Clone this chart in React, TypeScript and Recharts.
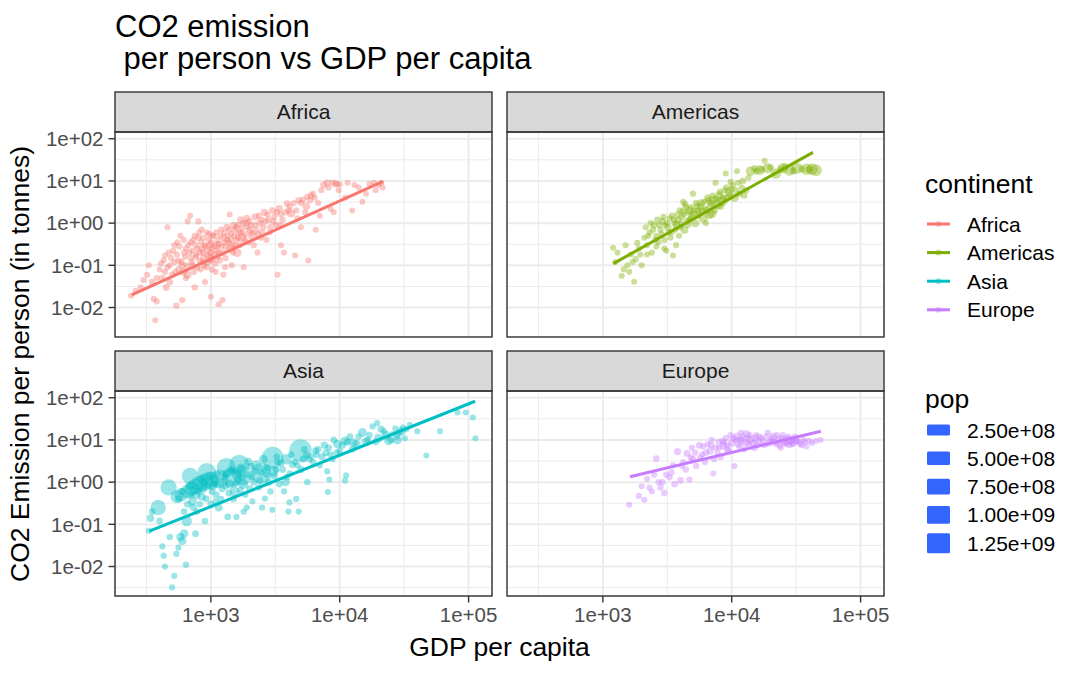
import React from 'react';
import { ScatterChart, Scatter, XAxis, YAxis, ZAxis, CartesianGrid } from 'recharts';

// ---------- data ----------
const CONTINENTS = ['Africa', 'Americas', 'Asia', 'Europe'];
const COLORS = ['#F8766D', '#7CAE00', '#00BFC4', '#C77CFF'];

const X_DOMAIN = [180.3, 152000];
const Y_DOMAIN = [0.002, 144.5];
const X_TICKS = [1e3, 1e4, 1e5];
const X_TICK_LABELS = ['1e+03', '1e+04', '1e+05'];
const Y_TICKS = [0.01, 0.1, 1, 10, 100];
const Y_TICK_LABELS = ['1e-02', '1e-01', '1e+00', '1e+01', '1e+02'];
const X_MINOR = [316.2, 3162, 31623];
const Y_MINOR = [0.003162, 0.03162, 0.3162, 3.162, 31.62];

const POP_BREAKS = [2.5e8, 5e8, 7.5e8, 1e9, 1.25e9];
const POP_LABELS = ['2.50e+08', '5.00e+08', '7.50e+08', '1.00e+09', '1.25e+09'];

// [gdpPercap, co2 per person (t), pop (millions)]
const AFRICA_A: number[][] = [
  [240,0.019,3],[260,0.025,4],[285,0.03,5],[300,0.045,6],[320,0.06,3],[330,0.1,4],[350,0.04,20],[360,0.016,8],[370,0.005,2],[380,0.014,10],
  [400,0.08,3],[420,0.05,25],[430,0.13,4],[440,0.07,6],[450,0.03,30],[460,0.8,2],[470,0.2,5],[480,0.1,8],[480,0.04,35],[500,0.06,7],
  [520,0.3,3],[520,0.12,9],[540,0.011,12],[550,0.35,4],[560,0.13,6],[560,0.08,10],[580,0.5,3],[600,0.015,14],[600,0.1,45],[610,0.07,60],
  [620,0.2,8],[640,0.05,10],[640,0.25,5],[660,1.1,2],[660,0.06,70],[690,1.5,3],[700,0.35,9],[700,0.15,12],[720,0.1,15],[720,0.22,4],
  [750,0.03,18],[750,0.5,6],[760,0.3,10],[770,0.18,7],[780,0.09,20],[800,1.1,3],[800,0.45,11],[820,0.13,14],[830,0.08,5],[840,0.35,6],
  [850,0.25,22],[850,0.7,4],[870,0.2,9],[880,0.15,30],[890,0.1,8],[900,0.04,5],[910,0.28,12],[930,0.6,7],[940,0.17,15],[950,0.12,40],
  [960,0.4,6],[980,0.3,9],[990,0.13,11],[1000,0.018,4],[1000,0.2,55],[1010,0.25,7],[1020,0.08,13],[1030,0.5,5],[1050,0.5,8],[1060,0.18,16],
  [1080,0.11,10],[1090,0.07,6],[1100,0.3,70],[1120,0.22,9],[1130,0.4,12],[1150,0.012,3],[1150,0.2,5],[1170,0.13,18],[1200,0.7,6],[1210,0.28,8],
  [1230,0.015,4],[1250,0.06,7],[1260,0.45,20],[1280,0.35,10],[1290,0.09,5],[1300,0.15,14],[1330,0.8,25],[1350,0.5,9],[1380,0.35,6],[1400,1.6,3],
  [1420,0.25,90],[1440,0.55,7],[1450,0.1,11],[1480,0.2,8],[1500,0.9,30],[1530,0.7,5],[1550,0.3,12],[1580,0.4,10],[1600,0.2,106],[1620,0.9,6],
  [1650,0.6,15],[1680,0.3,8],[1700,1.2,35],[1740,0.75,9],[1750,0.45,120],[1800,0.09,5],[1850,0.55,14],[1880,1.0,7],[1900,1.3,40],[1950,0.35,10],
  [2000,0.7,18],[2050,0.9,6],[2100,0.5,135],[2150,0.3,8],[2200,1.4,45],[2250,0.7,12],[2300,0.2,4],[2350,1.5,9],[2400,1.0,20],[2450,0.45,7],
  [2500,0.6,10],[2600,1.8,50],[2650,1.1,6],[2700,0.4,5],[2800,1.2,15],[2900,0.8,8],[3000,2.0,25],[3100,1.4,10],[3200,0.9,5],[3300,0.06,2],
  [3400,2.2,60],[3500,0.3,1],[3500,1.6,7],[3600,1.2,12],[3700,0.2,1],[3900,2.9,30],[4000,2.0,9],[4200,1.7,70],[4400,3.0,6],[4500,0.17,1],
  [4700,1.3,5],[4800,3.5,20],[5000,0.8,1],[5200,3.6,8],[5500,2.5,75],[5600,4.2,10],[5700,0.13,1],[6000,4.5,30],[6200,5.0,3],[6500,0.7,1],
  [6800,3.0,1],[7000,1.5,2],[7500,8.0,35],[8000,9.0,40],[8500,2.2,1],[9000,1.8,1],[9300,8.5,44],[9500,8.5,2],[10000,8.2,3],[11000,4.0,1],
  [12500,2.0,1],[13000,8.0,5],[15000,3.2,1],[17000,8.5,1],[19000,6.0,1],[21500,7.0,1],[21000,9.0,1],
];
const AFRICA_B: number[][] = [
  [380,0.05,5],[410,0.11,6],[440,0.17,4],[460,0.09,9],[490,0.15,5],[510,0.22,7],[530,0.07,11],[545,0.18,8],[570,0.28,6],[590,0.12,14],
  [615,0.4,5],[630,0.16,9],[650,0.1,12],[670,0.3,7],[680,0.2,16],[710,0.12,6],[730,0.4,8],[740,0.07,10],[765,0.16,13],[790,0.25,9],
  [810,0.6,5],[825,0.2,17],[860,0.12,7],[875,0.45,10],[895,0.3,6],[920,0.09,19],[945,0.22,8],[970,0.55,12],[985,0.16,6],[1005,0.35,9],
  [1040,0.14,14],[1070,0.28,7],[1100,0.6,11],[1140,0.16,8],[1160,0.32,13],[1190,0.5,6],[1240,0.2,10],[1270,0.6,8],[1310,0.28,15],[1340,0.4,6],
  [1390,0.7,9],[1430,0.4,12],[1470,0.3,7],[1520,0.5,10],[1570,0.8,8],[1630,0.45,14],[1710,0.6,6],[1780,1.0,9],[1830,0.4,11],[1920,0.8,7],
  [1980,1.1,10],[2080,0.6,8],[2200,0.9,12],[2330,0.55,6],[2480,1.2,9],[2550,0.8,11],[2750,1.6,7],[2850,0.6,5],[3050,1.1,8],[3250,1.8,10],
  [3450,0.9,6],[3800,1.8,9],[4100,2.5,7],[4600,2.0,5],[5000,3.0,8],[5400,1.8,6],[5900,3.5,9],[6400,4.0,5],[7200,6.0,4],[8200,7.0,6],
  [8800,9.2,3],[9800,6.0,3],[11500,9.0,1],[14000,7.0,1],[16000,5.0,1],[18500,9.0,1],[20000,8.0,1],
];

const AMERICAS_A: number[][] = [
  [1200,0.26,3],[1250,0.12,4],[1300,0.2,2],[1400,0.056,3],[1450,0.08,4],[1500,0.3,5],[1600,0.07,4],[1700,0.12,5],[1750,0.041,3],[1800,0.14,6],
  [1850,0.34,4],[1900,0.25,2],[1950,0.18,6],[2000,0.1,7],[2100,0.45,3],[2150,0.8,5],[2200,0.3,8],[2300,0.6,4],[2350,1.0,12],[2400,0.2,6],
  [2500,0.9,40],[2600,0.5,5],[2650,1.2,15],[2700,0.35,3],[2800,0.7,9],[2900,1.1,20],[3000,0.4,7],[3050,0.9,3],[3100,0.22,4],[3200,0.8,60],
  [3300,1.3,10],[3350,0.45,2],[3400,0.6,8],[3500,0.17,3],[3550,1.2,25],[3600,1.0,5],[3700,0.3,6],[3750,0.9,70],[3800,1.6,12],[3900,0.5,4],
  [4000,0.8,9],[4100,1.4,18],[4150,1.9,3],[4200,3.2,7],[4300,0.7,80],[4400,2.4,20],[4500,1.1,14],[4600,0.9,2],[4700,2.0,90],[4800,1.3,6],
  [4900,1.5,25],[5000,5.0,8],[5100,2.0,3],[5200,1.0,100],[5400,2.5,30],[5500,1.5,12],[5600,1.8,4],[5800,3.0,60],[5900,2.0,3],[6000,1.3,120],
  [6200,2.2,16],[6300,1.0,4],[6500,4.0,35],[6700,1.6,140],[6800,2.6,20],[7000,1.7,155],[7200,3.5,90],[7400,2.0,10],[7500,9.0,12],[7800,2.8,170],
  [8000,4.5,100],[8200,2.5,40],[8500,3.3,180],[8800,6.0,5],[9000,15,1],[9200,3.9,38],[9500,5.5,105],[9800,9.5,4],[10000,6.5,3],[10500,4.0,108],
  [11000,17,1],[11500,5.0,20],[12000,7.0,3],[12500,4.5,15],[13000,6.0,16],[14000,17,157],[15000,20,17],[16500,18,180],[17000,19,20],[18000,30,1],
  [19000,20,190],[20000,21,22],[22000,15,205],[24000,19,24],[25000,20,220],[26000,22,25],[28000,18,240],[30000,17,28],[32000,20,255],[35000,19,31],
  [38000,19,270],[40000,19,33],[42000,19,290],[45000,18,301],
];
const AMERICAS_B: number[][] = [
  [2250,0.5,5],[2450,0.7,8],[2550,0.4,4],[2750,0.9,10],[2850,0.55,6],[2950,1.4,12],[3150,1.0,5],[3250,0.6,9],[3450,1.5,14],[3650,0.7,6],
  [3850,1.2,18],[3950,2.0,8],[4050,1.0,10],[4250,1.6,7],[4350,2.8,12],[4550,1.8,15],[4650,1.2,9],[4850,2.4,11],[5050,1.7,20],[5300,3.0,14],
  [5450,2.0,8],[5700,2.5,30],[6100,3.2,12],[6400,2.0,25],[6600,3.5,16],[6900,3.0,40],[7100,4.5,10],[7600,3.8,20],[8100,5.5,14],[8600,4.0,30],
  [9100,7.0,8],[9600,4.8,20],[10200,8.0,10],[10800,6.0,25],[11200,9.0,4],[12200,10,30],[13500,12,5],[15500,17,20],[3000,0.25,4],[2200,0.18,5],
  [2600,0.28,3],[1650,0.18,3],[1550,0.1,4],
];

const ASIA_A: number[][] = [
  [330,0.07,10],[340,0.14,60],[350,0.2,20],[390,0.25,556],[400,0.12,30],[420,0.03,8],[430,0.018,10],[440,0.01,8],[470,0.75,637],[480,0.05,15],
  [500,0.0032,9],[520,0.006,10],[540,0.02,12],[560,0.028,9],[580,0.05,90],[600,0.04,100],[620,0.06,110],[640,0.011,12],[650,0.12,200],[660,0.3,40],
  [690,1.4,665],[700,0.5,50],[720,0.35,120],[750,0.8,20],[760,0.06,25],[780,0.2,30],[800,0.6,60],[820,0.3,15],[850,0.45,80],[880,1.0,40],
  [900,0.12,20],[930,1.7,862],[950,0.9,30],[1000,0.3,25],[1020,0.6,20],[1050,1.2,50],[1080,0.9,15],[1100,0.5,40],[1120,1.5,30],[1150,0.25,70],
  [1200,0.4,10],[1320,2.2,943],[1280,1.3,20],[1300,0.8,15],[1350,0.15,20],[1380,0.55,35],[1420,2.0,25],[1500,0.4,30],[1550,0.9,12],
  [1660,2.6,1000],[1650,1.6,60],[1700,0.65,25],[1750,1.3,45],[1800,0.2,15],[1850,0.5,18],[2000,0.7,50],[2050,2.4,20],[2100,0.35,10],
  [2150,1.0,30],[2200,1.8,30],[3020,3.8,1230],[2350,0.75,22],[2400,1.1,40],[2500,0.25,10],[2600,2.0,15],[2700,1.5,20],[2800,1.0,50],[2900,0.6,15],
  [3100,1.4,60],[3200,2.0,30],[3300,3.0,20],[3400,0.9,25],[3600,2.0,40],[3700,0.6,10],[3800,1.0,100],[3900,1.3,20],[4000,0.2,8],
  [4100,1.6,18],[4300,2.6,40],[4500,3.0,20],[4600,0.4,10],[4960,5.6,1320],[5000,2.0,50],[5200,3.5,30],[5500,4.5,25],[5600,1.0,15],[6000,4.0,20],
  [6200,3.0,15],[6500,5.5,40],[6800,6.0,20],[7000,2.5,10],[7300,4.0,40],[7600,7.5,50],[8000,1.8,12],[8200,6.5,30],[8500,4.5,30],[8800,3.5,10],
  [9000,10,25],[9500,5.0,20],[10000,5.5,20],[10500,7.5,40],[11000,1.1,8],[11500,9.0,45],[12000,12,30],[12500,6.0,25],[13500,8.0,100],[14000,12,15],
  [15000,15,120],[16500,10,20],[17000,13,20],[18000,21,15],[19000,9,25],[19500,25,5],[21000,18,50],[22000,16,10],[23000,13,120],[25000,10,30],
  [26000,14,5],[27000,19,3],[28000,12,3],[29000,15,8],[30000,16,127],[31000,20,4],[32000,11,4],[33000,18,2],[35000,23,3],[40000,16,6],
  [47000,4.3,2],[60000,16,2],[82000,45,1],[95000,45,1],[108000,34,1],[113000,11,1],
];
const ASIA_INDIA: number[][] = [
  [546,0.45,372],[590,0.5,409],[660,0.6,454],[710,0.7,506],[760,0.8,567],[820,0.9,634],[900,1.0,708],[980,1.1,788],[1160,1.2,872],[1460,1.3,959],[1750,1.45,1035],[2450,1.6,1110],
];
const ASIA_B: number[][] = [
  [560,0.4,30],[600,0.6,45],[620,0.2,25],[680,0.8,70],[730,0.25,40],[770,0.5,90],[830,1.2,50],[870,0.7,100],[920,0.4,30],[970,1.4,60],
  [1040,0.8,110],[1090,0.35,20],[1170,1.0,130],[1220,0.7,35],[1320,1.6,80],[1400,0.9,140],[1470,1.8,25],[1530,0.6,160],[1620,1.2,30],[1720,2.2,90],
  [1780,0.9,180],[1900,1.5,40],[1950,3.0,100],[2080,1.3,20],[2250,2.5,200],[2450,1.7,30],[2550,3.5,120],[2750,2.2,25],[3050,1.8,210],[3250,4.0,20],
  [3500,2.8,35],[3850,3.5,220],[4200,4.5,15],[4700,2.5,10],[5300,6.0,15],[5800,3.5,20],[6600,4.5,30],[7800,5.0,25],[9600,8.0,110],[11000,9.5,115],
  [12800,8.5,117],[16000,9.0,120],[20000,11,122],[24000,9.5,125],[28000,10,127],[1580,0.15,6],[1900,0.25,8],[2630,0.41,7],[3000,0.22,5],[4070,0.33,6],
  [4800,0.2,4],[8100,0.58,3],[8300,1.15,4],[11200,1.45,3],
];

const EUROPE_A: number[][] = [
  [1600,0.29,3],[1900,0.47,8],[2000,0.8,4],[2100,0.38,10],[2200,1.2,7],[2300,0.74,5],[2400,0.6,8],[2600,3.6,25],[2700,1.0,4],[2800,0.75,16],
  [3000,0.55,20],[3100,1.5,8],[3300,1.3,10],[3500,2.5,5],[3600,0.9,30],[3800,5.3,50],[4000,1.1,28],[4200,3.0,8],[4400,2.0,20],[4500,4.8,33],
  [4700,1.15,12],[4900,6.5,10],[5000,3.5,30],[5200,5.0,8],[5300,2.4,6],[5600,7.5,40],[5900,4.5,9],[6000,7.0,9],[6200,3.0,17],[6500,8.0,10],
  [6800,5.5,55],[7000,10,10],[7200,1.6,4],[7500,6.5,20],[7800,4.8,12],[7900,9.0,15],[8200,4.0,35],[8500,9.5,7],[8600,7.2,50],[9000,11,8],
  [9200,6.0,38],[9500,5.5,10],[9800,13,16],[10000,8.5,60],[10500,2.4,5],[10800,10,8],[11000,12,78],[11500,7.0,15],[11800,15,5],[12000,9.5,45],
  [12500,6.0,10],[13000,14,55],[13500,8.0,20],[14000,10,70],[15000,6.5,40],[15500,13,9],[16000,9,57],[17000,11,5],[18000,7.5,10],[19000,15,4],
  [20000,9.5,16],[21000,12,80],[22000,8,7],[23000,10,58],[24000,6.5,9],[25000,13,10],[26000,9,60],[27000,11,5],[28000,7.5,4],[29000,10,82],
  [30000,8.5,61],[31000,12,10],[32000,9.5,7],[34000,8,5],[36000,10,4],[38000,7,0.5],[40000,9.5,4.6],[42000,8.5,0.4],[45000,9.5,4.6],[49000,10,4.6],
];
const EUROPE_B: number[][] = [
  [8000,6.5,10],[8700,8.5,20],[9300,7.5,9],[10300,11,15],[11200,8.0,40],[11700,10.5,8],[12300,12,10],[12800,8.5,50],[13300,11,9],[13800,13,5],
  [14500,8.5,10],[15200,11,55],[15800,7.5,8],[16500,12,10],[17500,9.5,15],[18500,12,5],[19500,8.5,57],[20500,11,9],[21500,9.0,10],[22500,13,4],
  [23500,7.5,16],[24500,11,8],[25500,9.0,60],[26500,8.0,10],[27500,12,5],[28500,9.5,4],[29500,8.0,9],[31500,10,60],[33000,9.0,8],[35000,7.5,5],
  [37000,9.0,4],[6300,5.0,22],[6900,7.5,17],[7300,3.5,9],[5700,3.8,10],[4800,3.8,8],[4100,2.4,5],[3400,1.7,20],[2900,1.0,12],[2500,1.5,9],
];

// linear-model fit lines (endpoints)
const AFRICA_FIT = [[243, 0.02], [21700, 9.8]];
const AMERICAS_FIT = [[1205, 0.11], [42700, 47.5]];
const ASIA_FIT = [[333, 0.069], [112500, 82.6]];
const EUROPE_FIT = [[1625, 1.34], [49200, 16.1]];

// ---------- layout ----------
const FONT = '"Liberation Sans", Arial, Helvetica, sans-serif';
const PANEL_W = 377;
const PANEL_H = 205;
const COL_X = [115, 507];
const ROW_Y = [132, 391];
const STRIP_H = 40;
const Y_AXIS_W = 115;
const X_AXIS_H = 45;
const PAD_TOP = 16;
const PAD_RIGHT = 40;

const toPoints = (rows: number[][]) => rows.map((r) => ({ gdp: r[0], co2: r[1], pop: r[2] }));
const toFit = (rows: number[][]) => rows.map((r) => ({ gdp: r[0], co2: r[1] }));

const SERIES = [
  { data: [...AFRICA_A, ...AFRICA_B], fit: AFRICA_FIT },
  { data: [...AMERICAS_A, ...AMERICAS_B], fit: AMERICAS_FIT },
  { data: [...ASIA_A, ...ASIA_B, ...ASIA_INDIA], fit: ASIA_FIT },
  { data: [...EUROPE_A, ...EUROPE_B], fit: EUROPE_FIT },
];

const tickStyle = { fill: '#4D4D4D', fontSize: 20.5, fontFamily: FONT };
const tickLine = { stroke: '#333333', strokeWidth: 1.4 };

function Panel({ idx }: { idx: number }) {
  const col = idx % 2;
  const row = Math.floor(idx / 2);
  const showY = col === 0;
  const showX = row === 1;
  const yW = showY ? Y_AXIS_W : 0;
  const xH = showX ? X_AXIS_H : 0;
  const width = yW + PANEL_W + PAD_RIGHT;
  const height = PAD_TOP + PANEL_H + xH;
  const color = COLORS[idx];
  const pts = toPoints(SERIES[idx].data);
  const fit = toFit(SERIES[idx].fit);
  return (
    <div style={{ position: 'absolute', left: COL_X[col] - yW, top: ROW_Y[row] - PAD_TOP, width, height }}>
      <ScatterChart width={width} height={height} margin={{ top: PAD_TOP, right: PAD_RIGHT, bottom: 0, left: 0 }}>
        <XAxis xAxisId="minor" type="number" dataKey="gdp" scale="log" domain={X_DOMAIN} allowDataOverflow ticks={X_MINOR} hide />
        <YAxis yAxisId="minor" type="number" dataKey="co2" scale="log" domain={Y_DOMAIN} allowDataOverflow ticks={Y_MINOR} hide />
        <CartesianGrid xAxisId="minor" yAxisId="minor" stroke="#EBEBEB" strokeWidth={1} />
        <CartesianGrid stroke="#EBEBEB" strokeWidth={2} />
        <XAxis
          type="number"
          dataKey="gdp"
          scale="log"
          domain={X_DOMAIN}
          allowDataOverflow
          ticks={X_TICKS}
          interval={0}
          tickFormatter={(v: number) => X_TICK_LABELS[X_TICKS.indexOf(v)] ?? ''}
          hide={!showX}
          height={xH}
          axisLine={false}
          tickLine={tickLine}
          tickSize={6.5}
          tickMargin={5}
          tick={tickStyle}
        />
        <YAxis
          type="number"
          dataKey="co2"
          scale="log"
          domain={Y_DOMAIN}
          allowDataOverflow
          ticks={Y_TICKS}
          interval={0}
          tickFormatter={(v: number) => Y_TICK_LABELS[Y_TICKS.indexOf(v)] ?? ''}
          hide={!showY}
          width={yW}
          axisLine={false}
          tickLine={tickLine}
          tickSize={6.5}
          tickMargin={5}
          tick={tickStyle}
        />
        <ZAxis type="number" dataKey="pop" domain={[0, 1320]} range={[28, 400]} />
        <Scatter data={pts} fill={color} fillOpacity={0.4} stroke="none" isAnimationActive={false} />
        <Scatter
          data={fit}
          fill="none"
          line={{ stroke: color, strokeWidth: 3 }}
          shape={() => <g />}
          isAnimationActive={false}
        />
      </ScatterChart>
    </div>
  );
}

function Overlay() {
  return (
    <svg width={1080} height={674} style={{ position: 'absolute', left: 0, top: 0, pointerEvents: 'none' }} fontFamily={FONT}>
      {/* title */}
      <text x={115} y={37} fontSize={31} fill="#000">CO2 emission</text>
      <text x={115} y={69} fontSize={31} fill="#000" xmlSpace="preserve" style={{ whiteSpace: 'pre' }}>{' per person vs GDP per capita'}</text>

      {/* strips and panel borders */}
      {CONTINENTS.map((name, i) => {
        const col = i % 2;
        const row = Math.floor(i / 2);
        const x = COL_X[col];
        const y = ROW_Y[row];
        return (
          <g key={name}>
            <rect x={x} y={y - STRIP_H} width={PANEL_W} height={STRIP_H} fill="#D9D9D9" stroke="#333333" strokeWidth={1.4} />
            <text x={x + PANEL_W / 2} y={y - STRIP_H / 2 + 7.4} fontSize={21} fill="#1A1A1A" textAnchor="middle">{name}</text>
            <rect x={x} y={y} width={PANEL_W} height={PANEL_H} fill="none" stroke="#333333" strokeWidth={1.4} />
          </g>
        );
      })}

      {/* axis titles */}
      <text x={(COL_X[0] + COL_X[1] + PANEL_W) / 2} y={656} fontSize={26.5} fill="#000" textAnchor="middle">GDP per capita</text>
      <text
        x={0}
        y={0}
        fontSize={26.5}
        fill="#000"
        textAnchor="middle"
        transform={`translate(28.5, ${(ROW_Y[0] + ROW_Y[1] + PANEL_H) / 2}) rotate(-90)`}
      >
        CO2 Emission per person (in tonnes)
      </text>

      {/* continent legend */}
      <text x={925} y={193} fontSize={26.5} fill="#000">continent</text>
      {CONTINENTS.map((name, i) => {
        const cy = 224 + i * 28.6;
        return (
          <g key={name}>
            <line x1={927} x2={950} y1={cy} y2={cy} stroke={COLORS[i]} strokeWidth={3} />
            <circle cx={938.5} cy={cy} r={3} fill={COLORS[i]} fillOpacity={0.4} />
            <text x={967} y={cy + 7.5} fontSize={21} fill="#000">{name}</text>
          </g>
        );
      })}

      {/* pop legend */}
      <text x={925} y={408} fontSize={26.5} fill="#000">pop</text>
      {POP_BREAKS.map((v, i) => {
        const cy = 430 + i * 28.3;
        const h = 9 + (11 * v) / 1.25e9;
        return (
          <g key={v}>
            <rect x={927} y={cy - h / 2} width={23} height={h} rx={1.5} fill="#3366FF" />
            <text x={967} y={cy + 7.5} fontSize={21} fill="#000">{POP_LABELS[i]}</text>
          </g>
        );
      })}
    </svg>
  );
}

export default function App() {
  return (
    <div style={{ position: 'absolute', left: 0, top: 0, width: 1080, height: 674, background: '#FFFFFF', overflow: 'hidden' }}>
      {CONTINENTS.map((c, i) => (
        <Panel key={c} idx={i} />
      ))}
      <Overlay />
    </div>
  );
}
